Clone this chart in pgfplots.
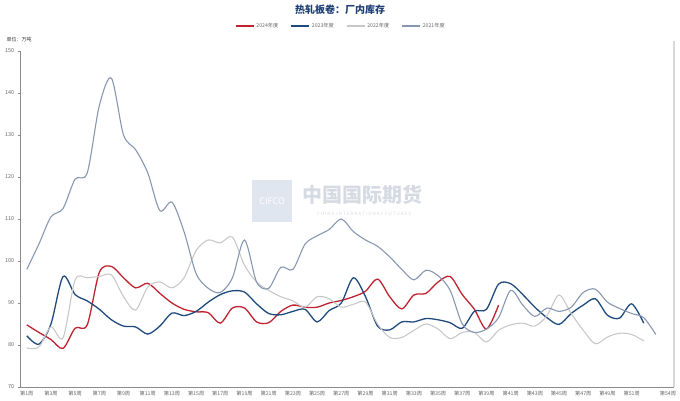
\documentclass[border=0pt]{standalone}
\usepackage{pgfplots}
\pgfplotsset{compat=1.18}
\usepackage{fontspec}
\setmainfont{Noto Sans CJK SC}
\definecolor{c24}{HTML}{C0232E}
\definecolor{c23}{HTML}{1F4A7D}
\definecolor{c22}{HTML}{C8C8C8}
\definecolor{c21}{HTML}{8797B2}
\definecolor{titleblue}{HTML}{1F3F74}
\definecolor{tickgray}{HTML}{666666}
\definecolor{wmbox}{HTML}{DFE6EF}
\definecolor{wmtext}{HTML}{D6DBE3}
\begin{document}
\begin{tikzpicture}
\begin{axis}[
  name=ax, at={(0pt,0pt)}, anchor=south west,
  scale only axis, width=653.3pt, height=336pt,
  xmin=0.5, xmax=54.5, ymin=70, ymax=150,
  axis lines*=left,
  axis line style={draw=black!45, line width=0.6pt},
  ytick={70,80,...,150},
  yticklabel style={font=\fontsize{5.4}{6}\selectfont, text=tickgray},
  xtick={1,3,...,51,54},
  xticklabels={第1周,第3周,第5周,第7周,第9周,第11周,第13周,第15周,第17周,第19周,第21周,第23周,第25周,第27周,第29周,第31周,第33周,第35周,第37周,第39周,第41周,第43周,第45周,第47周,第49周,第51周,第54周},
  xticklabel style={font=\fontsize{5.2}{5.5}\selectfont, text=tickgray, inner sep=0pt, text height=4.3pt, text depth=0.5pt, anchor=north, yshift=-1.5pt},
  x tick style={draw=none},
  extra x ticks={0.5,2.5,...,54.5},
  extra x tick labels={},
  extra x tick style={tick style={draw=black!45, line width=0.5pt}, major tick length=3pt},
  major tick length=3pt,
  tick align=outside,
  y tick style={draw=black!45, line width=0.5pt},
  /pgf/number format/assume math mode=true,
  legend columns=4,
  legend style={at={(0.49,1)}, anchor=center, yshift=25pt, draw=none, fill=none,
    font=\fontsize{5.2}{6}\selectfont, text=tickgray,
    /tikz/every even column/.append style={column sep=10pt}},
  legend image code/.code={\draw[#1, line width=1.5pt] (0pt,0pt) -- (18pt,0pt);},
  clip=false,
  before end axis/.code={
    \fill[wmbox] ([shift={(231.3pt,165pt)}]rel axis cs:0,0) rectangle ([shift={(271.3pt,207pt)}]rel axis cs:0,0);
    \node[text=white,font=\fontsize{9}{9}\selectfont] at ([shift={(251.3pt,186pt)}]rel axis cs:0,0) {CIFCO};
    \node[text=wmtext,font=\fontsize{20}{20}\selectfont\bfseries] at ([shift={(341.3pt,192pt)}]rel axis cs:0,0) {中国国际期货};
    \node[text=wmtext,font=\fontsize{4.5}{5}\selectfont] at ([shift={(343.3pt,173pt)}]rel axis cs:0,0) {C H I N A\ \ I N T E R N A T I O N A L\ \ F U T U R E S};
  },
  after end axis/.code={\draw[black!15, line width=1.2pt] (rel axis cs:1,0) -- (rel axis cs:1,1.03);},
]
\addplot[c24, line width=1.3pt, smooth, tension=0.5] coordinates {
(1,84.8)(2,83.0)(3,81.3)(4,79.2)(5,84.0)(6,84.8)(7,97.3)(8,98.7)(9,96.0)(10,93.6)
(11,94.7)(12,92.3)(13,90.0)(14,88.5)(15,87.9)(16,87.7)(17,85.2)(18,88.8)(19,88.8)(20,85.5)
(21,85.3)(22,88.0)(23,89.5)(24,89.0)(25,89.0)(26,90.0)(27,90.6)(28,91.5)(29,92.8)(30,95.7)
(31,91.5)(32,88.6)(33,91.9)(34,92.3)(35,95.0)(36,96.3)(37,92.0)(38,88.5)(39,83.8)(40,89.5)};
\addlegendentry{2024年度}
\addplot[c23, line width=1.3pt, smooth, tension=0.5] coordinates {
(1,82.2)(2,80.2)(3,85.0)(4,96.3)(5,92.0)(6,90.5)(7,88.5)(8,86.0)(9,84.5)(10,84.3)
(11,82.6)(12,84.5)(13,87.6)(14,87.0)(15,88.0)(16,90.2)(17,92.0)(18,92.9)(19,92.6)(20,89.8)
(21,87.5)(22,87.2)(23,88.0)(24,88.5)(25,85.5)(26,88.2)(27,90.0)(28,96.0)(29,91.5)(30,84.5)
(31,83.6)(32,85.5)(33,85.5)(34,86.3)(35,86.0)(36,85.3)(37,84.0)(38,88.0)(39,88.5)(40,94.5)
(41,94.6)(42,92.0)(43,89.0)(44,86.5)(45,84.9)(46,87.5)(47,89.5)(48,91.0)(49,87.1)(50,86.4)
(51,89.8)(52,85.2)};
\addlegendentry{2023年度}
\addplot[c22, line width=1.1pt, smooth, tension=0.5] coordinates {
(1,79.3)(2,79.5)(3,84.3)(4,81.7)(5,95.5)(6,96.0)(7,96.3)(8,96.7)(9,91.5)(10,88.3)
(11,93.8)(12,95.0)(13,93.6)(14,96.0)(15,102.5)(16,105.0)(17,104.3)(18,105.7)(19,99.0)(20,95.0)
(21,93.0)(22,91.5)(23,90.5)(24,89.0)(25,91.5)(26,91.0)(27,89.0)(28,89.7)(29,90.2)(30,85.0)
(31,81.8)(32,81.8)(33,83.5)(34,85.0)(35,83.8)(36,81.5)(37,83.0)(38,83.0)(39,80.7)(40,83.5)
(41,84.8)(42,85.2)(43,84.5)(44,87.0)(45,91.9)(46,87.5)(47,83.5)(48,80.3)(49,81.9)(50,82.8)
(51,82.5)(52,81.0)};
\addlegendentry{2022年度}
\addplot[c21, line width=1.1pt, smooth, tension=0.5] coordinates {
(1,98.0)(2,104.0)(3,110.5)(4,112.5)(5,119.5)(6,121.0)(7,137.0)(8,143.5)(9,130.0)(10,126.5)
(11,121.0)(12,112.0)(13,114.0)(14,107.0)(15,97.0)(16,93.5)(17,92.5)(18,96.0)(19,105.0)(20,95.0)
(21,93.5)(22,98.5)(23,98.0)(24,104.0)(25,106.0)(26,107.5)(27,110.0)(28,107.0)(29,105.0)(30,103.5)
(31,101.0)(32,98.0)(33,95.5)(34,97.8)(35,96.5)(36,93.0)(37,85.0)(38,83.0)(39,83.8)(40,86.5)
(41,93.0)(42,89.5)(43,86.8)(44,88.8)(45,88.0)(46,89.0)(47,92.5)(48,93.3)(49,90.2)(50,88.7)
(51,87.5)(52,86.5)(53,82.5)};
\addlegendentry{2021年度}
\end{axis}
\node[anchor=north,text=titleblue,font=\fontsize{10}{12}\selectfont\bfseries] at ([shift={(319.3pt,386pt)}]ax.south west) {热轧板卷：厂内库存};
\node[anchor=west,text=black!80,font=\fontsize{5}{6}\selectfont] at ([shift={(-17.7pt,347pt)}]ax.south west) {单位：万吨};
\pgfresetboundingbox
\path[use as bounding box] ([shift={(-20.7pt,-14pt)}]ax.south west) rectangle ([shift={(659.3pt,387pt)}]ax.south west);
\end{tikzpicture}
\end{document}
